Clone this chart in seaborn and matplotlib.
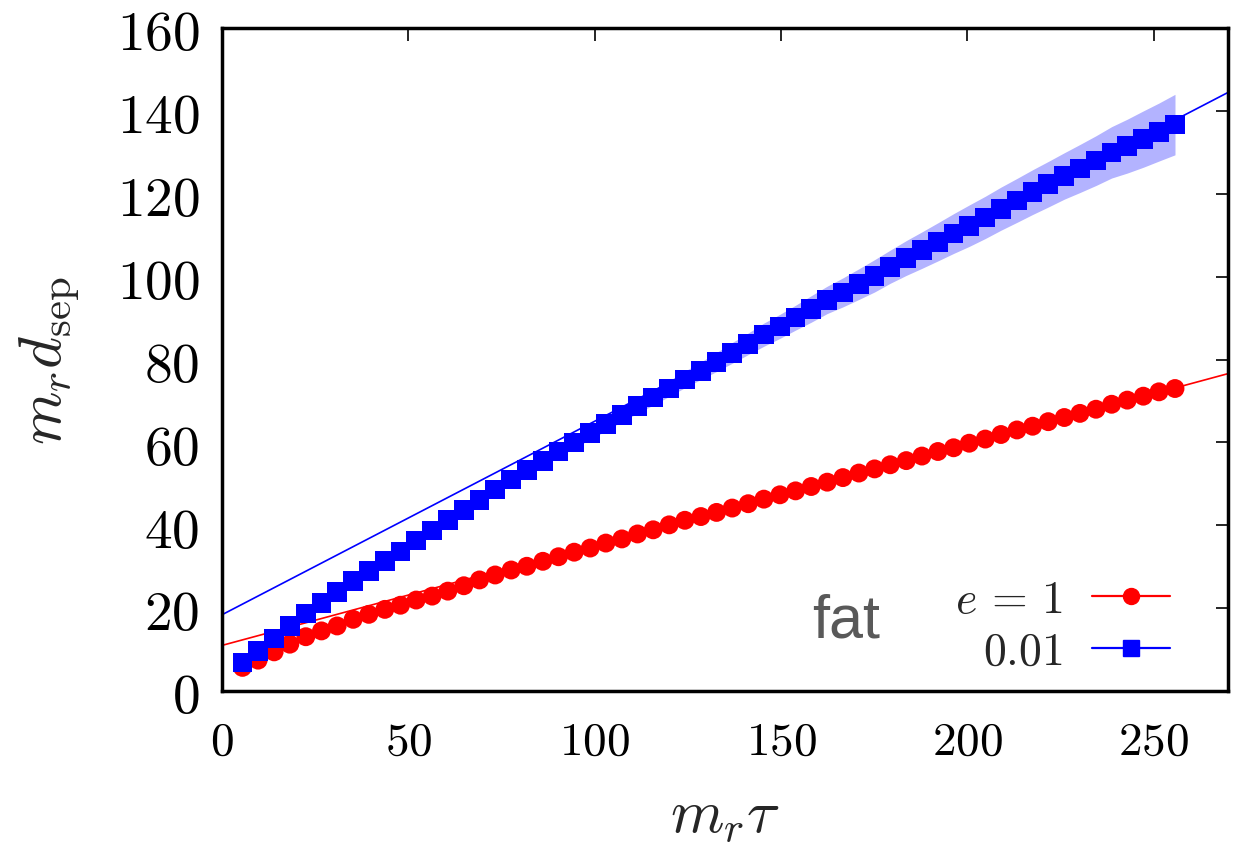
import numpy as np
import pandas as pd
import matplotlib
matplotlib.use("Agg")
import matplotlib.pyplot as plt
import seaborn as sns
from matplotlib.lines import Line2D

# ---------------- data ----------------
tau = [5.5, 9.7, 14.0, 18.2, 22.5, 26.7, 30.9, 35.2, 39.4, 43.7,
       47.9, 52.1, 56.4, 60.6, 64.9, 69.1, 73.3, 77.6, 81.8, 86.1,
       90.3, 94.5, 98.8, 103.0, 107.3, 111.5, 115.7, 120.0, 124.2, 128.5,
       132.7, 136.9, 141.2, 145.4, 149.7, 153.9, 158.1, 162.4, 166.6, 170.9,
       175.1, 179.3, 183.6, 187.8, 192.1, 196.3, 200.5, 204.8, 209.0, 213.3,
       217.5, 221.7, 226.0, 230.2, 234.5, 238.7, 242.9, 247.2, 251.4, 255.7]

d_e1 = [5.7, 7.45, 9.45, 11.3, 13.1, 14.5, 15.7, 17.3, 18.5, 19.7,
        20.7, 21.95, 22.9, 24.1, 25.4, 26.8, 28.0, 29.2, 30.1, 31.3,
        32.4, 33.5, 34.5, 35.7, 36.7, 37.9, 38.9, 40.1, 41.2, 42.1,
        43.1, 44.15, 45.2, 46.3, 47.35, 48.3, 49.35, 50.4, 51.5, 52.6,
        53.6, 54.6, 55.6, 56.7, 57.8, 58.7, 59.8, 60.8, 61.9, 63.0,
        63.9, 65.0, 66.0, 67.0, 68.0, 69.2, 70.2, 71.15, 72.2, 73.0]

d_e001 = [6.9, 9.7, 12.7, 15.7, 18.7, 21.3, 23.9, 26.5, 28.9, 31.3,
          33.7, 36.3, 38.7, 41.2, 43.7, 46.15, 48.6, 51.0, 53.4, 55.5,
          57.8, 60.0, 62.2, 64.4, 66.6, 68.75, 70.8, 73.0, 75.2, 77.3,
          79.4, 81.6, 83.8, 86.0, 88.0, 90.1, 92.2, 94.4, 96.2, 98.2,
          100.2, 102.4, 104.5, 106.4, 108.4, 110.4, 112.3, 114.3, 116.4, 118.4,
          120.4, 122.3, 124.3, 126.1, 128.0, 130.0, 131.5, 133.2, 134.9, 136.7]

err_e001 = [0.3, 0.3, 0.4, 0.4, 0.5, 0.5, 0.5, 0.6, 0.6, 0.7,
            0.7, 0.8, 0.8, 0.9, 0.9, 1.0, 1.0, 1.1, 1.2, 1.3,
            1.3, 1.4, 1.5, 1.6, 1.6, 1.7, 1.8, 1.9, 2.0, 2.1,
            2.3, 2.5, 2.6, 2.8, 2.9, 3.0, 3.2, 3.3, 3.5, 3.7,
            3.9, 4.0, 4.2, 4.4, 4.6, 4.8, 5.0, 5.1, 5.2, 5.3,
            5.4, 5.5, 5.6, 5.8, 6.0, 6.2, 6.5, 6.8, 7.0, 7.3]

fit_intercept = [11.0, 18.4]   # e=1, e=0.01
fit_slope = [0.243, 0.467]
fit_range = [0, 270]

labels = [r"$e\,=\,1$", r"$0.01$"]
x_ticks = [0, 50, 100, 150, 200, 250]
y_ticks = [0, 20, 40, 60, 80, 100, 120, 140, 160]

# ---------------- style ----------------
sns.set_style("white")
plt.rcParams["font.family"] = ["DejaVu Serif"]
plt.rcParams["mathtext.fontset"] = "cm"

fig = plt.figure(figsize=(12.47, 8.54), dpi=100)
ax = fig.add_axes([0.178, 0.1897, 0.807, 0.7763])

red = "#ff0000"
blue = "#0000ff"

df1 = pd.DataFrame({"tau": tau, "d": d_e1})
df2 = pd.DataFrame({"tau": tau, "d": d_e001,
                    "lo": np.array(d_e001) - np.array(err_e001),
                    "hi": np.array(d_e001) + np.array(err_e001)})

# error band
ax.fill_between(df2["tau"], df2["lo"], df2["hi"], color=(0.70, 0.70, 1.0),
                linewidth=0, zorder=1)

# fit lines
xf = np.array(fit_range, dtype=float)
for i, c in enumerate([red, blue]):
    fit_df = pd.DataFrame({"x": xf, "y": fit_intercept[i] + fit_slope[i] * xf})
    sns.lineplot(data=fit_df, x="x", y="y", color=c, linewidth=1.2, ax=ax,
                 zorder=2, legend=False)

sns.scatterplot(data=df1, x="tau", y="d", marker="o", color=red, s=185,
                edgecolor="none", linewidth=0, ax=ax, zorder=3, legend=False)
sns.scatterplot(data=df2, x="tau", y="d", marker="s", color=blue, s=200,
                edgecolor="none", linewidth=0, ax=ax, zorder=4, legend=False)

ax.set_xlim(0, 270)
ax.set_ylim(0, 160)
ax.set_xticks(x_ticks)
ax.set_yticks(y_ticks)
ax.set_xticklabels([f"${v}$" for v in x_ticks])
ax.set_yticklabels([f"${v}$" for v in y_ticks])

ax.tick_params(axis="both", which="both", direction="in", length=9, width=1.2,
               top=True, right=True, colors="black")
ax.tick_params(axis="x", pad=20, labelsize=34)
ax.tick_params(axis="y", pad=16, labelsize=40)

for sp in ax.spines.values():
    sp.set_visible(True)
    sp.set_color("black")
    sp.set_linewidth(2.5)

ax.set_xlabel(r"$m_r\tau$", fontsize=44, labelpad=14)
ax.set_ylabel(r"$m_r d_{\mathrm{sep}}$", fontsize=44, labelpad=26)

# annotation
ax.text(167.5, 17.0, "fat", fontsize=44, color="#595959",
        family=["Liberation Sans", "DejaVu Sans"], ha="center", va="center",
        zorder=5)

handles = [Line2D([], [], color=red, marker="o", markersize=11.5, linewidth=1.6),
           Line2D([], [], color=blue, marker="s", markersize=12, linewidth=1.6)]
ax.legend(handles, labels, loc="center right", bbox_to_anchor=(0.942, 0.0995),
          markerfirst=False, frameon=False, fontsize=33, handlelength=1.7,
          handletextpad=0.63, labelspacing=0.15, borderpad=0, borderaxespad=0)

fig.savefig("out.png", dpi=100)
